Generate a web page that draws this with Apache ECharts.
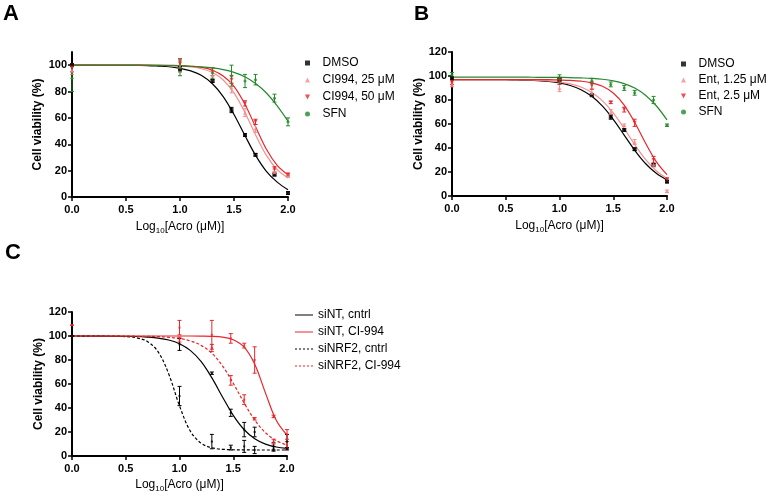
<!DOCTYPE html>
<html>
<head>
<meta charset="utf-8">
<script src="https://cdn.jsdelivr.net/npm/echarts@6.0.0/dist/echarts.min.js"></script>
<style>
html, body { margin: 0; padding: 0; background: #fff; }
#main { width: 769px; height: 496px; }
</style>
</head>
<body>
<div id="main"></div>
<script>
// doses (log10 µM) where the points were measured
var doseX = [0, 1.0, 1.301, 1.477, 1.602, 1.699, 1.875, 2.0];
var curveX = [0, 0.5, 0.6, 0.7, 0.8, 0.9, 1.0, 1.1, 1.2, 1.3, 1.4, 1.5, 1.6, 1.7, 1.8, 1.9, 2.0];

var xTickValues = [0, 0.5, 1.0, 1.5, 2.0];
var xTickLabels = ['0.0', '0.5', '1.0', '1.5', '2.0'];
var yTicksA = [0, 20, 40, 60, 80, 100];
var yTicksBC = [0, 20, 40, 60, 80, 100, 120];

// ---- panel A ----
var aNames = ['DMSO', 'CI994, 25 μM', 'CI994, 50 μM', 'SFN'];
var aDmsoMean = [100, 97, 88, 66, 47, 32, 17, 3];
var aDmsoSd   = [1, 2, 1, 2, 1, 1, 1, 1];
var aCi25Mean = [96, 99, 92, 83, 64, 52, 19, 16];
var aCi25Sd   = [3, 4, 4, 4, 3, 3, 2, 1];
var aCi50Mean = [98, 101, 95, 89, 71, 57, 21, 17];
var aCi50Sd   = [3, 4, 3, 3, 2, 2, 2, 1];
var aSfnMean  = [90, 98, 94, 92, 88, 89, 75, 57];
var aSfnSd    = [10, 6, 4, 8, 5, 4, 3, 3];
var aDmsoFit = [100, 99.9, 99.8, 99.7, 99.3, 98.8, 97.6, 95.7, 92.1, 85.9, 76.2, 62.6, 46.8, 31.6, 19.5, 11.3, 5.5];
var aCi25Fit = [100, 100, 100, 100, 99.9, 99.7, 99.4, 98.7, 97.3, 94.4, 88.8, 79.0, 64.3, 47.1, 31.6, 20.8, 14.5];
var aCi50Fit = [100, 100, 100, 100, 99.9, 99.8, 99.7, 99.2, 98.3, 96.2, 91.8, 84.0, 70.6, 53.2, 36.2, 24.0, 16.8];
var aSfnFit  = [100, 100, 100, 99.9, 99.8, 99.7, 99.5, 99.2, 98.7, 97.9, 96.6, 94.5, 91.2, 86.1, 78.9, 69.2, 57.5];

// ---- panel B ----
var bNames = ['DMSO', 'Ent, 1.25 μM', 'Ent, 2.5 μM', 'SFN'];
var bDmsoMean = [98, 97, 84, 66, 55, 39, 26, 12];
var bDmsoSd   = [1, 1, 1, 2, 1, 1, 1, 1];
var bEnt1Mean = [93, 90, 86, 70, 59, 45, 26, 4];
var bEnt1Sd   = [2, 3, 3, 2, 1, 2, 2, 1];
var bEnt2Mean = [95, 96, 92, 78, 72, 61, 30, 14];
var bEnt2Sd   = [2, 3, 3, 1, 2, 3, 3, 1];
var bSfnMean  = [101, 98, 96, 93, 90, 86, 80, 59];
var bSfnSd    = [2, 3, 2, 2, 2, 2, 3, 1];
var bDmsoFit = [97, 96.9, 96.7, 96.5, 96.1, 95.4, 94.2, 92.1, 88.6, 83.1, 74.9, 63.9, 51.0, 38.1, 27.1, 18.9, 13.4];
var bEnt1Fit = [97, 96.9, 96.8, 96.7, 96.4, 95.9, 95.0, 93.5, 90.8, 86.3, 79.3, 69.2, 56.5, 42.8, 30.5, 21.0, 14.6];
var bEnt2Fit = [97, 97, 97, 97, 97, 96.9, 96.7, 96.4, 95.7, 94.3, 91.4, 85.8, 76.0, 61.3, 44.1, 28.7, 17.8];
var bSfnFit  = [99, 99, 99, 99, 98.9, 98.9, 98.8, 98.7, 98.4, 98.0, 97.3, 96.0, 93.7, 90.0, 84.0, 75.2, 63.4];

// ---- panel C ----
var cNames = ['siNT, cntrl', 'siNT, CI-994', 'siNRF2, cntrl', 'siNRF2, CI-994'];
var cNtMean    = [100, 93, 69, 36, 22, 20, 8, 12];
var cNtSd      = [0, 5, 1, 3, 6, 4, 3, 6];
var cNtCiMean  = [100, 107, 101, 98, 92, 80, 33, 18];
var cNtCiSd    = [0, 6, 12, 4, 2, 11, 1, 4];
var cNrfMean   = [100, 50, 12, 7, 8, 5, 6, 6];
var cNrfSd     = [0, 8, 6, 2, 5, 3, 2, 1];
var cNrfCiMean = [109, 97, 90, 63, 47, 31, 12, 9];
var cNrfCiSd   = [0, 2, 3, 4, 4, 1, 2, 3];
var cNtFit    = [100, 99.8, 99.6, 99.1, 98.3, 96.7, 93.6, 88.0, 78.8, 65.3, 49.2, 33.9, 22.1, 14.4, 9.9, 7.5, 6.3];
var cNtCiFit  = [100, 100, 100, 100, 100, 100, 100, 100, 99.9, 99.7, 99.0, 96.9, 90.9, 76.4, 52.4, 29.8, 17.4];
var cNrfFit   = [100, 99.5, 98.5, 95.5, 87.0, 68.3, 41.8, 20.8, 10.7, 6.9, 5.6, 5.2, 5.1, 5.0, 5.0, 5.0, 5.0];
var cNrfCiFit = [100, 99.9, 99.8, 99.7, 99.5, 98.9, 97.9, 95.9, 92.2, 85.7, 75.1, 60.6, 44.4, 29.9, 19.4, 12.8, 9.1];

var BLACK = '#000000', RED = '#e8262b', PINK = '#f38f8f', GREEN = '#23892b';
var FONT = 'Liberation Sans, Arial, sans-serif';

var ICON_SQ = 'path://M0,0H10V10H0Z';
var ICON_UP = 'path://M5,0L10,10L0,10Z';
var ICON_DN = 'path://M0,0L10,0L5,10Z';
var ICON_DOT = 'path://M5,0A5,5,0,1,1,5,10A5,5,0,1,1,5,0Z';
// legend line icons for panel C
var ICON_LINE = 'path://M0,0H18V1H0Z';
var ICON_DASH = 'path://M0,0H2V1H0ZM4,0H6V1H4ZM8,0H10V1H8ZM12,0H14V1H12ZM16,0H18V1H16Z';

function pts(xs, ys) {
    return xs.map(function (x, i) { return [x, ys[i]]; });
}
function bars(xs, m, sd) {
    return xs.map(function (x, i) { return [x, m[i] - sd[i], m[i] + sd[i]]; });
}

function errSeries(idx, m, sd, color) {
    return {
        type: 'custom', xAxisIndex: idx, yAxisIndex: idx, silent: true, z: 3,
        data: bars(doseX, m, sd),
        encode: { x: 0, y: [1, 2] },
        renderItem: function (params, api) {
            var lo = api.coord([api.value(0), api.value(1)]);
            var hi = api.coord([api.value(0), api.value(2)]);
            var w = 2, st = { stroke: color, lineWidth: 1 };
            return {
                type: 'group',
                children: [
                    { type: 'line', shape: { x1: lo[0], y1: lo[1], x2: hi[0], y2: hi[1] }, style: st },
                    { type: 'line', shape: { x1: hi[0] - w, y1: hi[1], x2: hi[0] + w, y2: hi[1] }, style: st },
                    { type: 'line', shape: { x1: lo[0] - w, y1: lo[1], x2: lo[0] + w, y2: lo[1] }, style: st }
                ]
            };
        }
    };
}

function dotSeries(idx, name, m, color, symbol, size) {
    return {
        type: 'scatter', name: name, xAxisIndex: idx, yAxisIndex: idx, z: 4,
        data: pts(doseX, m), symbol: symbol, symbolSize: size,
        symbolKeepAspect: true,
        itemStyle: { color: color }
    };
}

function fitSeries(idx, name, ys, color, dashed) {
    return {
        type: 'line', name: name, xAxisIndex: idx, yAxisIndex: idx, z: 2,
        data: pts(curveX, ys), smooth: 0.35,
        symbol: 'none', showSymbol: false, silent: true,
        lineStyle: { color: color, width: 1.2, type: dashed ? [3, 2] : 'solid' },
        itemStyle: { color: color }
    };
}

var xName = '{a|Log}{s|10}{a|[Acro (μM)]}';
var xRich = {
    a: { fontSize: 12, fontFamily: FONT, color: '#000', lineHeight: 14, verticalAlign: 'top' },
    s: { fontSize: 8, fontFamily: FONT, color: '#000', lineHeight: 9, padding: [6, 0, 0, 0], verticalAlign: 'top' }
};

function makeX(idx, gap) {
    return {
        type: 'value', gridIndex: idx, min: 0, max: 2,
        name: xName, nameLocation: 'middle', nameGap: gap,
        nameTextStyle: { rich: xRich },
        axisLine: { lineStyle: { color: '#000', width: 2 } },
        axisTick: { length: 4, lineStyle: { width: 1.5, color: '#000' }, customValues: xTickValues },
        axisLabel: {
            customValues: xTickValues, margin: 7,
            fontSize: 11, fontWeight: 'bold', color: '#000', fontFamily: FONT,
            formatter: function (v) { return xTickLabels[xTickValues.indexOf(v)]; }
        },
        splitLine: { show: false }
    };
}

function makeY(idx, max, ticks, gap) {
    return {
        type: 'value', gridIndex: idx, min: 0, max: max,
        name: 'Cell viability (%)', nameLocation: 'middle', nameGap: gap,
        nameTextStyle: { fontSize: 12, fontWeight: 'bold', color: '#000', fontFamily: FONT },
        axisLine: { show: true, lineStyle: { color: '#000', width: 2 } },
        axisTick: { show: true, length: 4, lineStyle: { width: 1.5, color: '#000' }, customValues: ticks },
        axisLabel: {
            customValues: ticks, margin: 5,
            fontSize: 11, fontWeight: 'bold', color: '#000', fontFamily: FONT
        },
        splitLine: { show: false }
    };
}

function legendBox(left, top, names, icons, colors, w, h, gap) {
    return {
        orient: 'vertical', left: left, top: top, padding: 0,
        itemWidth: w, itemHeight: h, itemGap: gap, symbolKeepAspect: true,
        selectedMode: false,
        textStyle: { fontSize: 12, fontFamily: FONT, color: '#000', lineHeight: 14 },
        data: names.map(function (n, i) {
            return { name: n, icon: icons[i], itemStyle: { color: colors[i] } };
        })
    };
}

var myChart = echarts.init(document.getElementById('main'));

var series = [
    // A
    fitSeries(0, 'a0', aDmsoFit, BLACK), fitSeries(0, 'a1', aCi25Fit, PINK),
    fitSeries(0, 'a2', aCi50Fit, RED), fitSeries(0, 'a3', aSfnFit, GREEN),
    errSeries(0, aDmsoMean, aDmsoSd, BLACK), errSeries(0, aCi25Mean, aCi25Sd, PINK),
    errSeries(0, aCi50Mean, aCi50Sd, RED), errSeries(0, aSfnMean, aSfnSd, GREEN),
    dotSeries(0, aNames[0], aDmsoMean, BLACK, ICON_SQ, 4),
    dotSeries(0, aNames[1], aCi25Mean, PINK, ICON_UP, 4),
    dotSeries(0, aNames[2], aCi50Mean, RED, ICON_DN, 4),
    dotSeries(0, aNames[3], aSfnMean, GREEN, ICON_DOT, 3),
    // B
    fitSeries(1, 'b0', bDmsoFit, BLACK), fitSeries(1, 'b1', bEnt1Fit, PINK),
    fitSeries(1, 'b2', bEnt2Fit, RED), fitSeries(1, 'b3', bSfnFit, GREEN),
    errSeries(1, bDmsoMean, bDmsoSd, BLACK), errSeries(1, bEnt1Mean, bEnt1Sd, PINK),
    errSeries(1, bEnt2Mean, bEnt2Sd, RED), errSeries(1, bSfnMean, bSfnSd, GREEN),
    dotSeries(1, bNames[0], bDmsoMean, BLACK, ICON_SQ, 4),
    dotSeries(1, bNames[1], bEnt1Mean, PINK, ICON_UP, 4),
    dotSeries(1, bNames[2], bEnt2Mean, RED, ICON_DN, 4),
    dotSeries(1, bNames[3], bSfnMean, GREEN, ICON_DOT, 3),
    // C
    fitSeries(2, cNames[0], cNtFit, BLACK), fitSeries(2, cNames[1], cNtCiFit, RED),
    fitSeries(2, cNames[2], cNrfFit, BLACK, true), fitSeries(2, cNames[3], cNrfCiFit, RED, true),
    errSeries(2, cNtMean, cNtSd, BLACK), errSeries(2, cNtCiMean, cNtCiSd, RED),
    errSeries(2, cNrfMean, cNrfSd, BLACK), errSeries(2, cNrfCiMean, cNrfCiSd, RED),
    dotSeries(2, 'c0', cNtMean, BLACK, 'rect', 2),
    dotSeries(2, 'c1', cNtCiMean, RED, 'rect', 2),
    dotSeries(2, 'c2', cNrfMean, BLACK, 'rect', 2),
    dotSeries(2, 'c3', cNrfCiMean, RED, 'rect', 2)
];

var option = {
    animation: false,
    backgroundColor: '#fff',
    grid: [
        { left: 72, top: 52, width: 216, height: 145 },
        { left: 452, top: 52, width: 215, height: 144 },
        { left: 72, top: 312, width: 215, height: 144 }
    ],
    xAxis: [makeX(0, 24), makeX(1, 24), makeX(2, 23)],
    yAxis: [makeY(0, 110, yTicksA, 28), makeY(1, 120, yTicksBC, 25), makeY(2, 120, yTicksBC, 27)],
    legend: [
        legendBox(305, 56, aNames, [ICON_SQ, ICON_UP, ICON_DN, ICON_DOT],
            [BLACK, PINK, RED, GREEN], 20, 5, 3),
        legendBox(681, 57, bNames, [ICON_SQ, ICON_UP, ICON_DN, ICON_DOT],
            [BLACK, PINK, RED, GREEN], 20, 5, 2),
        legendBox(295, 308, cNames, [ICON_LINE, ICON_LINE, ICON_DASH, ICON_DASH],
            [BLACK, RED, BLACK, RED], 18, 1, 3)
    ],
    graphic: [
        { type: 'text', left: 3, top: 3, style: { text: 'A', font: 'bold 22px ' + FONT, fill: '#000' } },
        { type: 'text', left: 414, top: 4, style: { text: 'B', font: 'bold 21px ' + FONT, fill: '#000' } },
        { type: 'text', left: 5, top: 242, style: { text: 'C', font: 'bold 22px ' + FONT, fill: '#000' } }
    ],
    series: series
};

myChart.setOption(option);
</script>
</body>
</html>
